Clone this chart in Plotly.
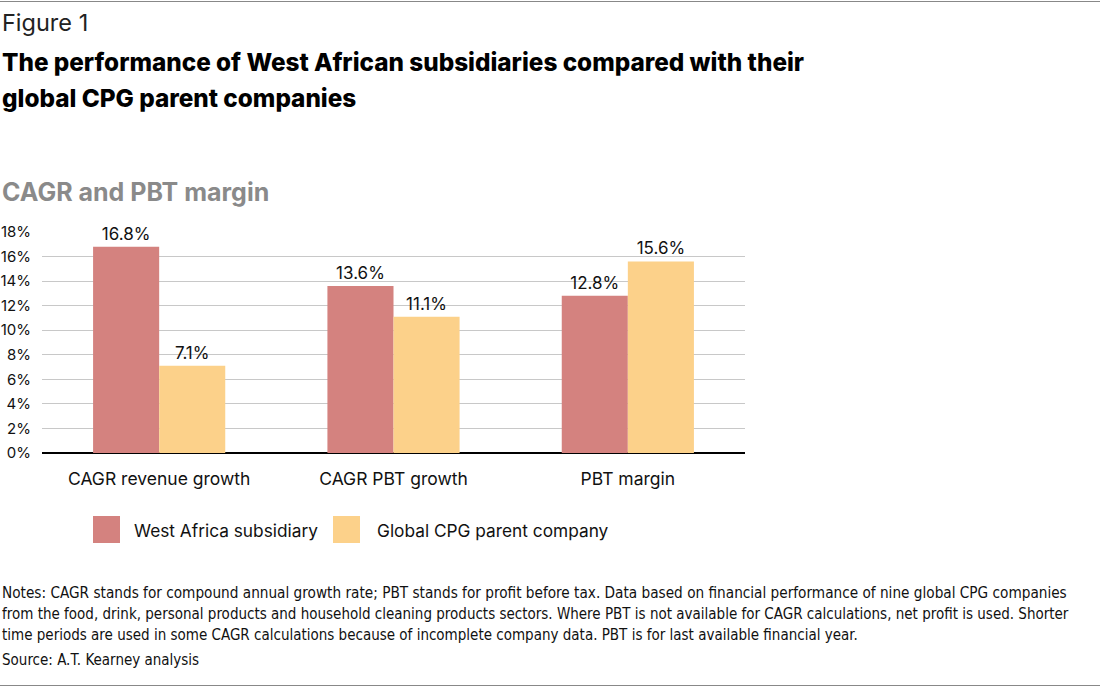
import plotly.graph_objects as go

categories = ["CAGR revenue growth", "CAGR PBT growth", "PBT margin"]
series_names = ["West Africa subsidiary", "Global CPG parent company"]
west_africa = [16.8, 13.6, 12.8]
global_cpg = [7.1, 11.1, 15.6]
series_values = [west_africa, global_cpg]
colors = ["#D4827F", "#FCD18A"]
y_ticks = [0, 2, 4, 6, 8, 10, 12, 14, 16, 18]
y_tick_labels = [f"{v}%" for v in y_ticks]

notes_lines = [
    "Notes: CAGR stands for compound annual growth rate; PBT stands for profit before tax. Data based on financial performance of nine global CPG companies",
    "from the food, drink, personal products and household cleaning products sectors. Where PBT is not available for CAGR calculations, net profit is used. Shorter",
    "time periods are used in some CAGR calculations because of incomplete company data. PBT is for last available financial year.",
]
source_line = "Source: A.T. Kearney analysis"

W, H = 1100, 687
L, R, T, B = 42, 745, 232, 453

def px(x):
    return (x - L) / (R - L)

def py(y):
    return (B - y) / (B - T)

MAIN = "Inter, Roboto, 'Noto Sans', sans-serif"
NARROW = "'Liberation Sans Narrow', 'DejaVu Sans Condensed', 'Roboto Condensed', 'Liberation Sans', sans-serif"

fig = go.Figure()
for name, vals, col in zip(series_names, series_values, colors):
    fig.add_trace(go.Bar(
        x=categories, y=vals, name=name,
        marker=dict(color=col, line=dict(width=0)),
        texttemplate="%{y:.1f}%", textposition="outside",
        textfont=dict(family=MAIN, size=17, color="#111"),
        cliponaxis=False, showlegend=False,
    ))

annotations = []
shapes = []

def add_text(text, x, y, size, color="#111", weight="normal", family=MAIN, xanchor="left"):
    annotations.append(dict(
        text=text, x=px(x), y=py(y), xref="paper", yref="paper",
        xanchor=xanchor, yanchor="middle", showarrow=False,
        font=dict(family=family, size=size, color=color, weight=weight),
    ))

add_text("Figure 1", 0, 22, 23.5, "#222")
add_text("The performance of West African subsidiaries compared with their", 0, 62, 24.3, "#000", weight=800)
add_text("global CPG parent companies", 0, 98, 24.3, "#000", weight=800)
add_text("CAGR and PBT margin", 0, 192, 25, "#8a8a8a", weight=700)

# legend
leg_sq = [(93, 516), (333, 516)]
leg_tx = [132, 375]
for (sx, sy), tx, name, col in zip(leg_sq, leg_tx, series_names, colors):
    shapes.append(dict(type="rect", xref="paper", yref="paper",
                       x0=px(sx), x1=px(sx + 27), y0=py(sy), y1=py(sy + 27),
                       fillcolor=col, line=dict(width=0)))
    add_text(name, tx, 530, 17.3, "#111")

for i, line in enumerate(notes_lines):
    add_text(line, 0, 593 + 21 * i, 15.2 if i == 0 else 15, "#111", family=NARROW)
add_text(source_line, 0, 660, 15, "#111", family=NARROW)

# top and bottom rules
for yy in (1.5, 685.5):
    shapes.append(dict(type="line", xref="paper", yref="paper",
                       x0=px(0), x1=px(W), y0=py(yy), y1=py(yy),
                       line=dict(color="#888", width=1)))

fig.update_layout(
    width=W, height=H,
    margin=dict(l=L, r=W - R, t=T, b=H - B, pad=0, autoexpand=False),
    paper_bgcolor="white", plot_bgcolor="white",
    barmode="group", bargap=0.436, bargroupgap=0,
    annotations=annotations, shapes=shapes,
    font=dict(family=MAIN, color="#111"),
    xaxis=dict(
        automargin=False,
        showgrid=False, showline=False, ticks="outside", ticklen=0,
        tickfont=dict(family=MAIN, size=17.5, color="#111"),
        ticklabelstandoff=10,
    ),
    yaxis=dict(
        automargin=False,
        range=[0, 18], tickvals=y_ticks, ticktext=y_tick_labels,
        showgrid=True, gridcolor="#c8c8c8", gridwidth=1,
        zeroline=True, zerolinecolor="#000", zerolinewidth=2,
        showline=False, ticks="", tickfont=dict(family=MAIN, size=15, color="#111"),
        ticklabelstandoff=10,
    ),
)

fig.write_html("out.html", config={"displayModeBar": False},
               post_script="document.body.style.margin='0';")
